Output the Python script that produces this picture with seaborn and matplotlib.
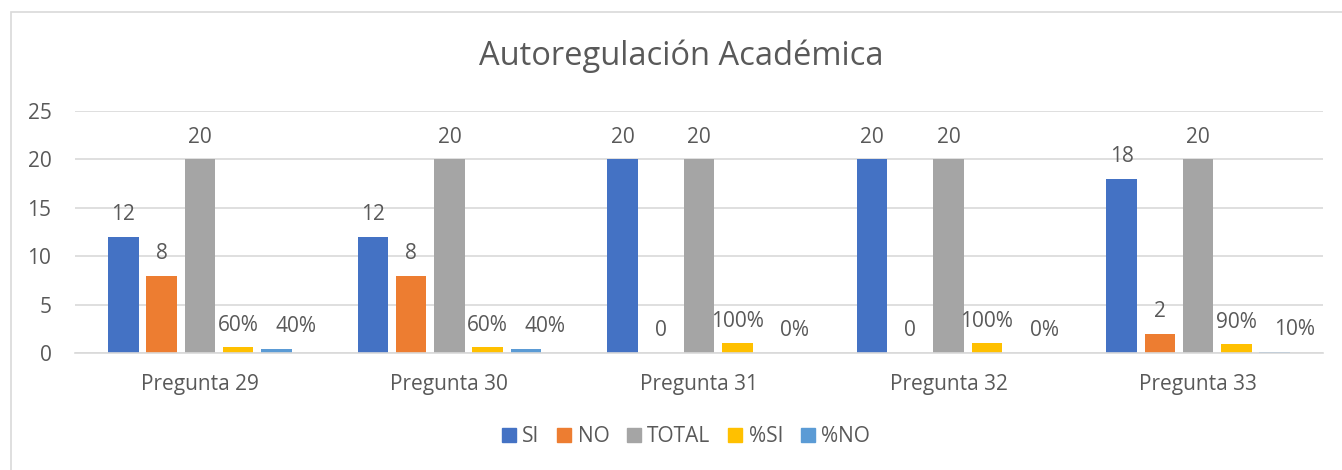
import matplotlib
matplotlib.use("Agg")
import matplotlib.pyplot as plt
import seaborn as sns
import pandas as pd
from matplotlib.patches import Rectangle

categories = ["Pregunta 29", "Pregunta 30", "Pregunta 31", "Pregunta 32", "Pregunta 33"]
series_names = ["SI", "NO", "TOTAL", "%SI", "%NO"]
si = [12, 12, 20, 20, 18]
no = [8, 8, 0, 0, 2]
total = [20, 20, 20, 20, 20]
pct_si = [0.6, 0.6, 1.0, 1.0, 0.9]
pct_no = [0.4, 0.4, 0.0, 0.0, 0.1]
colors = ["#4472C4", "#ED7D31", "#A5A5A5", "#FFC000", "#5B9BD5"]
title = "Autoregulación Académica"

values = [si, no, total, pct_si, pct_no]
rows = []
for name, vals in zip(series_names, values):
    for c, v in zip(categories, vals):
        rows.append({"cat": c, "serie": name, "valor": v})
df = pd.DataFrame(rows)

sns.set_theme(style="white")
plt.rcParams["font.family"] = ["Open Sans", "DejaVu Sans"]
text_color = "#595959"
fs = 15

W, H = 1342, 470
fig = plt.figure(figsize=(W / 100, H / 100), dpi=100)
ax = fig.add_axes([75 / W, 1 - 353 / H, (1323 - 75) / W, (353 - 111) / H])

sns.barplot(data=df, x="cat", y="valor", hue="serie", order=categories,
            hue_order=series_names, palette=colors, width=0.766, gap=0.2,
            linewidth=0, errorbar=None, ax=ax, legend=False, saturation=1)

ax.set_ylim(0, 25)
ax.set_xlim(-0.5, 4.5)
ax.set_yticks([0, 5, 10, 15, 20, 25])
ax.yaxis.grid(True, color="#D9D9D9", linewidth=1.2)
ax.set_axisbelow(True)
for s in ["top", "right", "left"]:
    ax.spines[s].set_visible(False)
ax.spines["bottom"].set_color("#D9D9D9")
ax.spines["bottom"].set_linewidth(1.2)
ax.tick_params(axis="both", length=0, labelsize=fs, colors=text_color)
ax.tick_params(axis="y", pad=17)
ax.tick_params(axis="x", pad=15)
ax.set_xlabel("")
ax.set_ylabel("")

# data labels
for cont, name, vals in zip(ax.containers, series_names, values):
    for patch, v in zip(cont.patches, vals):
        x = patch.get_x() + patch.get_width() / 2
        y = patch.get_height()
        if name.startswith("%"):
            lab = f"{round(v * 100)}%"
        else:
            lab = f"{v:g}"
        dx = 14 if name == "%NO" else 0
        ax.annotate(lab, (x, y), xytext=(dx, 12), textcoords="offset points",
                    ha="center", va="baseline", fontsize=fs, color=text_color)

fig.text(681 / W, 1 - 56 / H, title, ha="center", va="center",
         fontsize=23.5, color=text_color)

# legend
handles = [Rectangle((0, 0), 1, 1, color=c) for c in colors]
fig.legend(handles, series_names, loc="center", bbox_to_anchor=(686 / W, 1 - 437 / H),
           ncol=5, frameon=False, fontsize=fs, handlelength=0.67, handleheight=0.67,
           handletextpad=0.3, columnspacing=0.85, labelcolor=text_color)

# chart frame
fig.patches.append(Rectangle((11 / W, -0.1), 1.2, 1 - 12 / H + 0.1, transform=fig.transFigure,
                             fill=False, edgecolor="#D9D9D9", linewidth=1.2))

fig.savefig("out.png", dpi=100)
